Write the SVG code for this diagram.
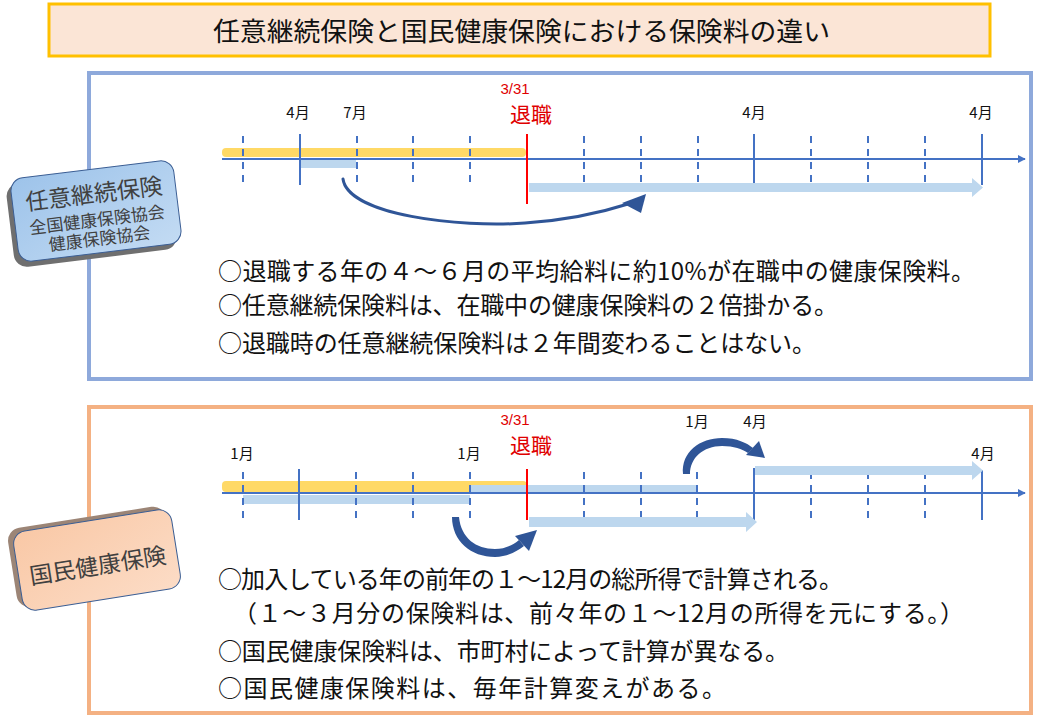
<svg xmlns="http://www.w3.org/2000/svg" width="1040" height="720" viewBox="0 0 1040 720">
<defs>
<style>
.jp{font-family:"Noto Sans CJK JP","Noto Sans CJK SC",sans-serif;}
.lat{font-family:"Liberation Sans",Arial,sans-serif;}
.body{font-size:24px;fill:#111;}
.mon{font-size:15px;fill:#111;text-anchor:middle;}
.red1{font-size:15px;fill:#E00000;text-anchor:middle;}
.red2{font-size:21px;fill:#E00000;text-anchor:middle;}
.axis{stroke:#4472C4;stroke-width:2;fill:none;}
.tick{stroke:#4472C4;stroke-width:2;}
.dash{stroke:#4472C4;stroke-width:2;stroke-dasharray:7 6;}
.ret{stroke:#FF0000;stroke-width:2;}
.yel{fill:#FFD966;}
.lb{fill:#BDD7EE;}
.curve{fill:#2F5597;}
</style>
<marker id="ax" viewBox="0 0 10 10" refX="9" refY="5" markerWidth="4" markerHeight="4" orient="auto" markerUnits="strokeWidth">
<path d="M0,0 L10,5 L0,10 z" fill="#4472C4"/>
</marker>
<linearGradient id="gBlue" x1="0" y1="0" x2="1" y2="1">
<stop offset="0" stop-color="#9DC3EA"/>
<stop offset="1" stop-color="#C3DBF3"/>
</linearGradient>
<linearGradient id="gPeach" x1="0" y1="0" x2="1" y2="1">
<stop offset="0" stop-color="#F9C8A6"/>
<stop offset="1" stop-color="#FCDCC6"/>
</linearGradient>
</defs>
<rect width="1040" height="720" fill="#FFFFFF"/>

<g id="title">
<rect x="49" y="4" width="941" height="52" fill="#FBE5D6" stroke="#FFC000" stroke-width="3"/>
<text class="jp" x="213" y="41" font-size="26" textLength="617" lengthAdjust="spacingAndGlyphs" fill="#111">任意継続保険と国民健康保険における保険料の違い</text>
</g>

<g id="panel-nini">
<rect x="89" y="73" width="942" height="306" fill="#FFFFFF" stroke="#8EA9DB" stroke-width="4"/>
</g>
<g id="panel-kokuho">
<rect x="89" y="407" width="942" height="306" fill="#FFFFFF" stroke="#F4B183" stroke-width="4"/>
</g>

<g id="timeline-top">
<rect class="yel" x="222" y="148" width="304" height="9" rx="4"/>
<rect class="lb" x="300" y="160" width="56" height="8"/>
<line class="axis" x1="222" y1="159" x2="1025" y2="159" marker-end="url(#ax)"/>
<g>
<line class="dash" x1="243" y1="136" x2="243" y2="183"/>
<line class="dash" x1="357" y1="136" x2="357" y2="183"/>
<line class="dash" x1="413" y1="136" x2="413" y2="183"/>
<line class="dash" x1="470" y1="136" x2="470" y2="183"/>
<line class="dash" x1="584" y1="136" x2="584" y2="183"/>
<line class="dash" x1="641" y1="136" x2="641" y2="183"/>
<line class="dash" x1="698" y1="136" x2="698" y2="183"/>
<line class="dash" x1="811" y1="136" x2="811" y2="183"/>
<line class="dash" x1="868" y1="136" x2="868" y2="183"/>
<line class="dash" x1="925" y1="136" x2="925" y2="183"/>
<line class="tick" x1="300" y1="134" x2="300" y2="185"/>
<line class="tick" x1="754" y1="134" x2="754" y2="185"/>
<line class="tick" x1="982" y1="134" x2="982" y2="185"/>
<line class="ret" x1="527" y1="134" x2="527" y2="204"/>
</g>
<path class="lb" d="M529,183 H972 V178 L983,187.5 L972,197 V192 H529 Z"/>
<text class="jp mon" x="298" y="118">4月</text>
<text class="jp mon" x="355" y="118">7月</text>
<text class="lat red1" x="515" y="94">3/31</text>
<text class="jp red2" x="531" y="122">退職</text>
<text class="jp mon" x="754" y="118">4月</text>
<text class="jp mon" x="981" y="118">4月</text>
</g>

<g id="timeline-bottom">
<rect class="yel" x="222" y="481" width="305" height="11" rx="4"/>
<rect class="lb" x="470" y="485" width="227" height="7"/>
<rect class="lb" x="243" y="495" width="227" height="9"/>
<line class="axis" x1="222" y1="493" x2="1025" y2="493" marker-end="url(#ax)"/>
<g>
<line class="dash" x1="243" y1="472" x2="243" y2="518"/>
<line class="dash" x1="356" y1="472" x2="356" y2="518"/>
<line class="dash" x1="413" y1="472" x2="413" y2="518"/>
<line class="dash" x1="470" y1="472" x2="470" y2="518"/>
<line class="dash" x1="584" y1="472" x2="584" y2="518"/>
<line class="dash" x1="641" y1="472" x2="641" y2="518"/>
<line class="dash" x1="697" y1="472" x2="697" y2="518"/>
<line class="dash" x1="811" y1="472" x2="811" y2="518"/>
<line class="dash" x1="868" y1="472" x2="868" y2="518"/>
<line class="dash" x1="925" y1="472" x2="925" y2="518"/>
<line class="tick" x1="299" y1="469" x2="299" y2="520"/>
<line class="tick" x1="754" y1="468" x2="754" y2="520"/>
<line class="tick" x1="982" y1="470" x2="982" y2="520"/>
<line class="ret" x1="527" y1="469" x2="527" y2="520"/>
</g>
<path class="lb" d="M755,466 H972 V461 L983,470.5 L972,480 V475 H755 Z"/>
<path class="lb" d="M529,517 H746 V512 L757,522 L746,532 V527 H529 Z"/>
<text class="jp mon" x="242" y="459">1月</text>
<text class="jp mon" x="469" y="459">1月</text>
<text class="lat red1" x="515" y="425">3/31</text>
<text class="jp red2" x="531" y="453">退職</text>
<text class="jp mon" x="697" y="427">1月</text>
<text class="jp mon" x="755" y="427">4月</text>
<text class="jp mon" x="983" y="459">4月</text>
</g>

<g id="connectors">
<path d="M343,179 C348,215 460,228 525,223 C570,220 600,213 628,204" fill="none" stroke="#2F5597" stroke-width="3" stroke-linecap="round"/>
<path class="curve" d="M646,194 L622,203 L641,213 Z"/>
<path class="curve" d="M452,517 C452,541 471,557 495,557 C508,557 517,551 524,546 L519,540 C513,545 505,549 495,549 C476,549 461,538 459,517 Z"/>
<path class="curve" d="M537,530 L515,536 L529,551 Z"/>
<path class="curve" d="M683,474 C681,452 700,438 722,438 C737,438 747,443 753,448 L748,453 C742,449 734,446 722,446 C703,446 690,458 690,474 Z"/>
<path class="curve" d="M765,458 L759,441 L746,455 Z"/>
</g>

<g id="text-nini" class="jp body">
<text x="218" y="280" textLength="757" lengthAdjust="spacing">○退職する年の４～６月の平均給料に約10%が在職中の健康保険料。</text>
<text x="218" y="314" textLength="620" lengthAdjust="spacing">○任意継続保険料は、在職中の健康保険料の２倍掛かる。</text>
<text x="218" y="352" textLength="598" lengthAdjust="spacing">○退職時の任意継続保険料は２年間変わることはない。</text>
</g>

<g id="text-kokuho" class="jp body">
<text x="218" y="588" textLength="625" lengthAdjust="spacing">○加入している年の前年の１～12月の総所得で計算される。</text>
<text x="233" y="622" textLength="731" lengthAdjust="spacing">（１～３月分の保険料は、前々年の１～12月の所得を元にする。）</text>
<text x="218" y="660" textLength="571" lengthAdjust="spacing">○国民健康保険料は、市町村によって計算が異なる。</text>
<text x="218" y="697" textLength="508" lengthAdjust="spacing">○国民健康保険料は、毎年計算変えがある。</text>
</g>

<g id="label-nini" transform="translate(96,211) rotate(-7)">
<rect x="-82" y="-42" width="164" height="84" rx="13" fill="#6F6F6F" transform="translate(-5,5)"/>
<rect x="-82" y="-42" width="164" height="84" rx="13" fill="url(#gBlue)" stroke="#3B5E94" stroke-width="1"/>
<g class="jp" fill="#404040" text-anchor="middle">
<text x="0" y="-9" font-size="23">任意継続保険</text>
<text x="0" y="15" font-size="17">全国健康保険協会</text>
<text x="0" y="34" font-size="17">健康保険協会</text>
</g>
</g>

<g id="label-kokuho" transform="translate(97,560) rotate(-9)">
<rect x="-80" y="-40" width="160" height="80" rx="13" fill="#9C8576" transform="translate(-5,-4)"/>
<rect x="-80" y="-40" width="160" height="80" rx="13" fill="url(#gPeach)" stroke="#3B5E94" stroke-width="1"/>
<text class="jp" x="0" y="14" font-size="23" fill="#404040" text-anchor="middle">国民健康保険</text>
</g>
</svg>
